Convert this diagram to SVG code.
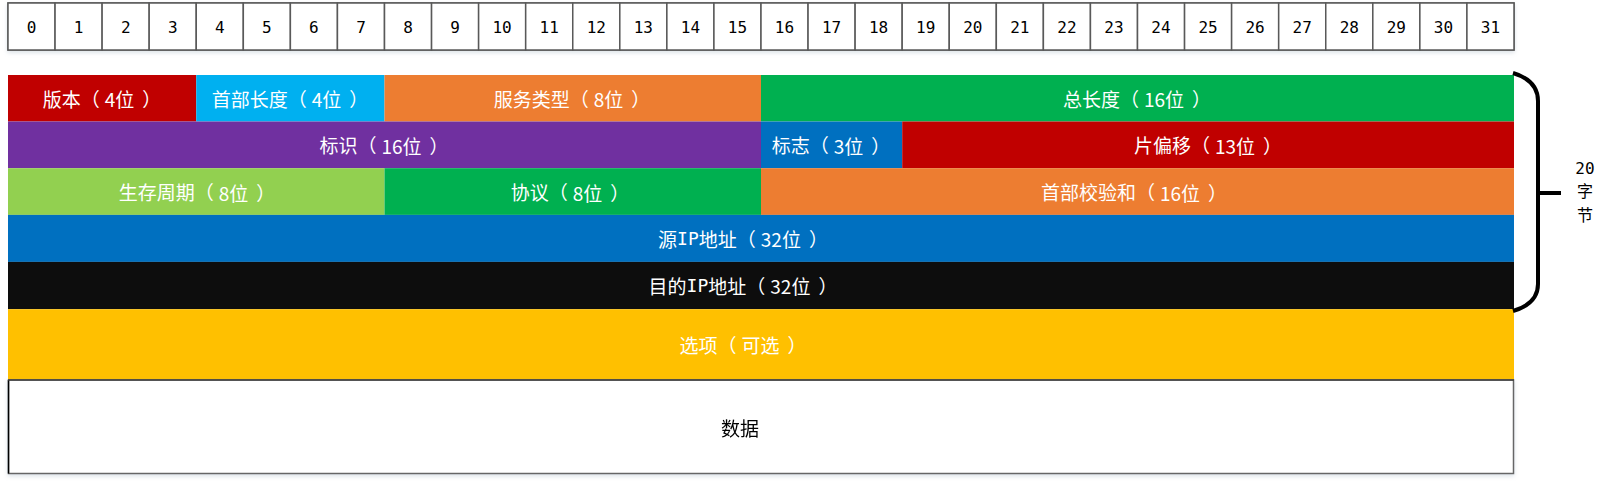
<svg xmlns="http://www.w3.org/2000/svg" width="1610" height="485" viewBox="0 0 1610 485">
<defs>
<style>
.cell{fill:#fff;stroke:#595959;stroke-width:1.5}
.num{font-family:"DejaVu Sans Mono","Liberation Mono",monospace;font-size:16px;fill:#000;text-anchor:middle;dominant-baseline:central}
.lbl{font-family:"Noto Sans CJK SC","Noto Sans",sans-serif;font-size:19px;fill:#fff;text-anchor:middle;dominant-baseline:central}
.mono{font-family:"DejaVu Sans Mono","Liberation Mono",monospace;font-size:18px}
.dark{fill:#000}
.side{font-family:"DejaVu Sans Mono","Noto Sans CJK SC",monospace;font-size:16px;fill:#000;text-anchor:middle;dominant-baseline:central}
</style>
<filter id="sh" x="-5%" y="-20%" width="110%" height="150%">
<feDropShadow dx="0" dy="2" stdDeviation="2" flood-color="#9ab" flood-opacity="0.35"/>
</filter>
</defs>
<rect width="1610" height="485" fill="#fff"/>
<g id="bits" filter="url(#sh)">
<rect class="cell" x="8" y="3" width="1506" height="47"/>
</g>
<g id="bitcells">
<g class="cells">
<rect class="cell" x="8" y="3" width="47.06" height="47"/><rect class="cell" x="55.06" y="3" width="47.06" height="47"/><rect class="cell" x="102.12" y="3" width="47.06" height="47"/><rect class="cell" x="149.18" y="3" width="47.06" height="47"/><rect class="cell" x="196.25" y="3" width="47.06" height="47"/><rect class="cell" x="243.31" y="3" width="47.06" height="47"/><rect class="cell" x="290.37" y="3" width="47.06" height="47"/><rect class="cell" x="337.43" y="3" width="47.06" height="47"/><rect class="cell" x="384.5" y="3" width="47.06" height="47"/><rect class="cell" x="431.56" y="3" width="47.06" height="47"/><rect class="cell" x="478.62" y="3" width="47.06" height="47"/><rect class="cell" x="525.68" y="3" width="47.06" height="47"/><rect class="cell" x="572.75" y="3" width="47.06" height="47"/><rect class="cell" x="619.81" y="3" width="47.06" height="47"/><rect class="cell" x="666.87" y="3" width="47.06" height="47"/><rect class="cell" x="713.93" y="3" width="47.06" height="47"/><rect class="cell" x="761" y="3" width="47.06" height="47"/><rect class="cell" x="808.06" y="3" width="47.06" height="47"/><rect class="cell" x="855.12" y="3" width="47.06" height="47"/><rect class="cell" x="902.18" y="3" width="47.06" height="47"/><rect class="cell" x="949.25" y="3" width="47.06" height="47"/><rect class="cell" x="996.31" y="3" width="47.06" height="47"/><rect class="cell" x="1043.37" y="3" width="47.06" height="47"/><rect class="cell" x="1090.43" y="3" width="47.06" height="47"/><rect class="cell" x="1137.5" y="3" width="47.06" height="47"/><rect class="cell" x="1184.56" y="3" width="47.06" height="47"/><rect class="cell" x="1231.62" y="3" width="47.06" height="47"/><rect class="cell" x="1278.68" y="3" width="47.06" height="47"/><rect class="cell" x="1325.75" y="3" width="47.06" height="47"/><rect class="cell" x="1372.81" y="3" width="47.06" height="47"/><rect class="cell" x="1419.87" y="3" width="47.06" height="47"/><rect class="cell" x="1466.93" y="3" width="47.06" height="47"/>
</g>
<g>
<text class="num" x="31.5" y="27">0</text><text class="num" x="78.6" y="27">1</text><text class="num" x="125.7" y="27">2</text><text class="num" x="172.7" y="27">3</text><text class="num" x="219.8" y="27">4</text><text class="num" x="266.8" y="27">5</text><text class="num" x="313.9" y="27">6</text><text class="num" x="361" y="27">7</text><text class="num" x="408" y="27">8</text><text class="num" x="455.1" y="27">9</text><text class="num" x="502.1" y="27">10</text><text class="num" x="549.2" y="27">11</text><text class="num" x="596.3" y="27">12</text><text class="num" x="643.3" y="27">13</text><text class="num" x="690.4" y="27">14</text><text class="num" x="737.5" y="27">15</text><text class="num" x="784.5" y="27">16</text><text class="num" x="831.6" y="27">17</text><text class="num" x="878.6" y="27">18</text><text class="num" x="925.7" y="27">19</text><text class="num" x="972.8" y="27">20</text><text class="num" x="1019.8" y="27">21</text><text class="num" x="1066.9" y="27">22</text><text class="num" x="1114" y="27">23</text><text class="num" x="1161" y="27">24</text><text class="num" x="1208.1" y="27">25</text><text class="num" x="1255.1" y="27">26</text><text class="num" x="1302.2" y="27">27</text><text class="num" x="1349.3" y="27">28</text><text class="num" x="1396.3" y="27">29</text><text class="num" x="1443.4" y="27">30</text><text class="num" x="1490.5" y="27">31</text>
</g>
</g>
<g id="version"><rect x="8" y="75" width="188.25" height="46.5" fill="#C00000"/><text class="lbl" x="102" y="98">版本（<tspan dx="5">4位</tspan><tspan dx="8">）</tspan></text></g>
<g id="ihl"><rect x="196.25" y="75" width="188.25" height="46.5" fill="#00B0F0"/><text class="lbl" x="290" y="98">首部长度（<tspan dx="5">4位</tspan><tspan dx="8">）</tspan></text></g>
<g id="tos"><rect x="384.5" y="75" width="376.5" height="46.5" fill="#ED7D31"/><text class="lbl" x="572" y="98">服务类型（<tspan dx="5">8位</tspan><tspan dx="8">）</tspan></text></g>
<g id="total"><rect x="761" y="75" width="753" height="46.5" fill="#00B050"/><text class="lbl" x="1137" y="98">总长度（<tspan dx="5">16位</tspan><tspan dx="8">）</tspan></text></g>
<g id="ident"><rect x="8" y="121.5" width="753" height="46.7" fill="#7030A0"/><text class="lbl" x="384" y="144.5">标识（<tspan dx="5">16位</tspan><tspan dx="8">）</tspan></text></g>
<g id="flags"><rect x="761" y="121.5" width="141.2" height="46.7" fill="#0070C0"/><text class="lbl" x="831" y="144.5">标志（<tspan dx="5">3位</tspan><tspan dx="8">）</tspan></text></g>
<g id="frag"><rect x="902.2" y="121.5" width="611.8" height="46.7" fill="#C00000"/><text class="lbl" x="1208" y="144.5">片偏移（<tspan dx="5">13位</tspan><tspan dx="8">）</tspan></text></g>
<g id="ttl"><rect x="8" y="168.2" width="376.5" height="46.7" fill="#92D050"/><text class="lbl" x="197" y="191.5">生存周期（<tspan dx="5">8位</tspan><tspan dx="8">）</tspan></text></g>
<g id="proto"><rect x="384.5" y="168.2" width="376.5" height="46.7" fill="#00B050"/><text class="lbl" x="570" y="191.5">协议（<tspan dx="5">8位</tspan><tspan dx="8">）</tspan></text></g>
<g id="checksum"><rect x="761" y="168.2" width="753" height="46.7" fill="#ED7D31"/><text class="lbl" x="1134" y="191.5">首部校验和（<tspan dx="5">16位</tspan><tspan dx="8">）</tspan></text></g>
<g id="src"><rect x="8" y="214.9" width="1506" height="47" fill="#0070C0"/><text class="lbl" x="743" y="238">源<tspan class="mono">IP</tspan>地址（<tspan dx="5">32位</tspan><tspan dx="8">）</tspan></text></g>
<g id="dst"><rect x="8" y="261.9" width="1506" height="47.3" fill="#0D0D0D"/><text class="lbl" x="743" y="285">目的<tspan class="mono">IP</tspan>地址（<tspan dx="5">32位</tspan><tspan dx="8">）</tspan></text></g>
<g id="options"><rect x="8" y="309.2" width="1506" height="70.8" fill="#FFC000"/><text class="lbl" x="743" y="344">选项（<tspan dx="5">可选</tspan><tspan dx="8">）</tspan></text></g>
<g id="data" filter="url(#sh)"><rect x="8.5" y="380" width="1505" height="93.5" fill="#fff" stroke="#666" stroke-width="1.5"/><line x1="8.5" y1="380" x2="8.5" y2="473.5" stroke="#000" stroke-width="1.5"/><line x1="8" y1="380" x2="1514" y2="380" stroke="#3f3f3f" stroke-width="1.5"/><text class="lbl dark" x="740" y="427">数据</text></g>
<g id="connectors">
<path d="M1513 73 C1530 78 1538 88 1538 101 L1538 284 C1538 297 1530 306 1513 311" fill="none" stroke="#000" stroke-width="4"/>
<line x1="1538" y1="193" x2="1561" y2="193" stroke="#000" stroke-width="4"/>
</g>
<g id="size-label">
<text class="side" x="1585" y="168">20</text>
<text class="side" x="1585" y="191">字</text>
<text class="side" x="1585" y="215">节</text>
</g>
</svg>
